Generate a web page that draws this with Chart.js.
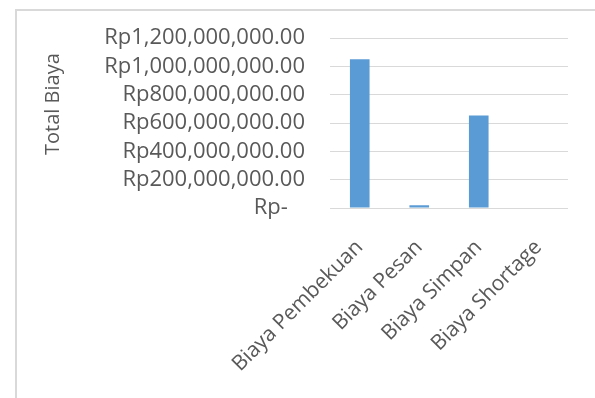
<!DOCTYPE html>
<html>
<head>
<meta charset="utf-8">
<script src="https://cdn.jsdelivr.net/npm/chart.js@4"></script>
<style>
html,body{margin:0;padding:0;background:#fff;}
canvas{display:block;}
</style>
</head>
<body>
<canvas id="c" width="595" height="398"></canvas>
<script>
const categories = ['Biaya Pembekuan', 'Biaya Pesan', 'Biaya Simpan', 'Biaya Shortage'];
const totalBiaya = [1052000000, 19000000, 653000000, 0];
const yTickValues = [0, 200000000, 400000000, 600000000, 800000000, 1000000000, 1200000000];
const yAxisTitle = 'Total Biaya';

const FONT = "'Open Sans', sans-serif";
const TXT = '#595959';

function fmt(v) {
  if (v === 0) return 'Rp-   ';
  return 'Rp' + v.toLocaleString('en-US', {minimumFractionDigits: 2, maximumFractionDigits: 2});
}

const frame = {
  id: 'frame',
  beforeDraw(chart) {
    const ctx = chart.ctx;
    ctx.save();
    ctx.strokeStyle = '#d9d9d9';
    ctx.lineWidth = 2;
    ctx.strokeRect(16, 10, 900, 900);
    ctx.restore();
  },
  afterLayout(chart) {
    const y = chart.scales.y;
    if (!y._titleWrapped) {
      const orig = y.drawTitle;
      y.drawTitle = function () {
        const b = this.bottom;
        this.bottom = 170;
        orig.call(this);
        this.bottom = b;
      };
      y._titleWrapped = true;
    }
  }
};

new Chart(document.getElementById('c'), {
  type: 'bar',
  data: {
    labels: categories,
    datasets: [{
      data: totalBiaya,
      backgroundColor: '#5b9bd5',
      borderWidth: 0,
      barPercentage: 0.33,
      categoryPercentage: 1
    }]
  },
  options: {
    responsive: false,
    animation: false,
    devicePixelRatio: 1,
    layout: {padding: {top: 38, right: 27, left: 0, bottom: 0}},
    plugins: {legend: {display: false}, tooltip: {enabled: false}},
    scales: {
      x: {
        grid: {display: false},
        border: {display: false},
        ticks: {
          color: TXT, font: {family: FONT, size: 21},
          minRotation: 45, maxRotation: 45, autoSkip: false, padding: 19
        },
        afterFit(s) { s.height = 190; }
      },
      y: {
        min: 0, max: 1200000000,
        afterBuildTicks(s) { s.ticks = yTickValues.map(v => ({value: v})); },
        grid: {color: '#d9d9d9', lineWidth: 1, drawTicks: false},
        border: {display: false},
        ticks: {
          color: TXT, font: {family: FONT, size: 22}, padding: 25,
          autoSkip: false,
          callback: (v) => fmt(v)
        },
        title: {
          display: true, text: yAxisTitle, color: TXT,
          font: {family: FONT, size: 20}, padding: {top: 41, bottom: 0}
        },
        afterFit(s) { s.width = 330; }
      }
    }
  },
  plugins: [frame]
});
</script>
</body>
</html>
